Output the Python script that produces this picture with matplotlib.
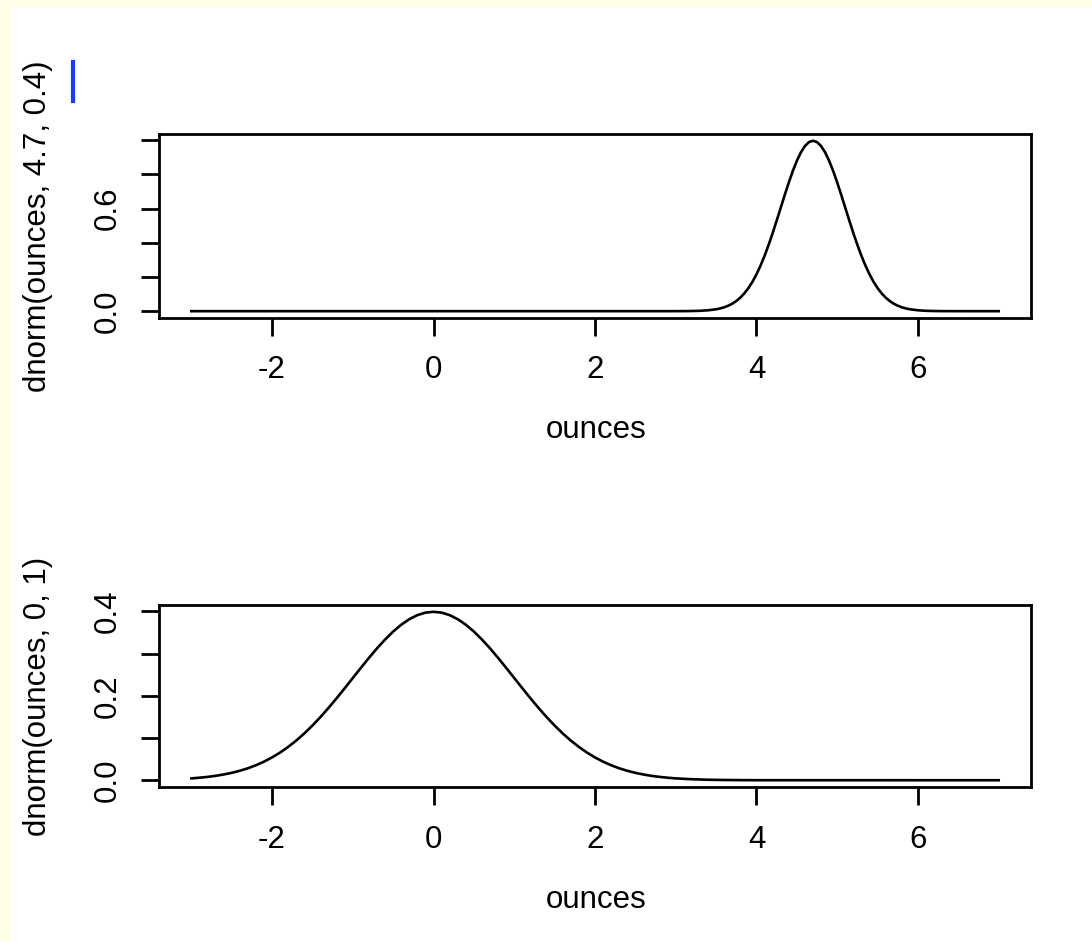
import matplotlib
matplotlib.use("Agg")
import matplotlib.pyplot as plt
from matplotlib.patches import Rectangle
from matplotlib.lines import Line2D

plt.rcParams['font.family'] = ['Liberation Sans', 'DejaVu Sans']

# ---- data ----
ounces_top = [-3.0, 3.0, 3.1, 3.2, 3.3, 3.4, 3.5, 3.55, 3.6, 3.65, 3.7, 3.75, 3.8, 3.85,
              3.9, 3.95, 4.0, 4.05, 4.1, 4.15, 4.2, 4.25, 4.3, 4.35, 4.4, 4.45, 4.5,
              4.55, 4.6, 4.65, 4.7, 4.75, 4.8, 4.85, 4.9, 4.95, 5.0, 5.05, 5.1, 5.15,
              5.2, 5.25, 5.3, 5.35, 5.4, 5.45, 5.5, 5.55, 5.6, 5.65, 5.7, 5.75, 5.8,
              5.85, 5.9, 6.0, 6.1, 6.2, 6.3, 6.4, 7.0]
dens_top = [0.0, 0.0001, 0.0003, 0.0009, 0.0022, 0.0051, 0.0111, 0.0160, 0.0227, 0.0318,
            0.0438, 0.0594, 0.0794, 0.1043, 0.1350, 0.1720, 0.2157, 0.2663, 0.3238,
            0.3875, 0.4566, 0.5297, 0.6049, 0.6801, 0.7528, 0.8204, 0.8802, 0.9296,
            0.9667, 0.9896, 0.9974, 0.9896, 0.9667, 0.9296, 0.8802, 0.8204, 0.7528,
            0.6801, 0.6049, 0.5297, 0.4566, 0.3875, 0.3238, 0.2663, 0.2157, 0.1720,
            0.1350, 0.1043, 0.0794, 0.0594, 0.0438, 0.0318, 0.0227, 0.0160, 0.0111,
            0.0051, 0.0022, 0.0009, 0.0003, 0.0001, 0.0]

ounces_bot = [-3.0, -2.9, -2.8, -2.7, -2.6, -2.5, -2.4, -2.3, -2.2, -2.1, -2.0, -1.9,
              -1.8, -1.7, -1.6, -1.5, -1.4, -1.3, -1.2, -1.1, -1.0, -0.9, -0.8, -0.7,
              -0.6, -0.5, -0.4, -0.3, -0.2, -0.1, 0.0, 0.1, 0.2, 0.3, 0.4, 0.5, 0.6,
              0.7, 0.8, 0.9, 1.0, 1.1, 1.2, 1.3, 1.4, 1.5, 1.6, 1.7, 1.8, 1.9, 2.0,
              2.1, 2.2, 2.3, 2.4, 2.5, 2.6, 2.7, 2.8, 2.9, 3.0, 3.2, 3.4, 3.6, 3.8,
              4.0, 7.0]
dens_bot = [0.0044, 0.0060, 0.0079, 0.0104, 0.0136, 0.0175, 0.0224, 0.0283, 0.0355,
            0.0440, 0.0540, 0.0656, 0.0790, 0.0940, 0.1109, 0.1295, 0.1497, 0.1714,
            0.1942, 0.2179, 0.2420, 0.2661, 0.2897, 0.3123, 0.3332, 0.3521, 0.3683,
            0.3814, 0.3910, 0.3970, 0.3989, 0.3970, 0.3910, 0.3814, 0.3683, 0.3521,
            0.3332, 0.3123, 0.2897, 0.2661, 0.2420, 0.2179, 0.1942, 0.1714, 0.1497,
            0.1295, 0.1109, 0.0940, 0.0790, 0.0656, 0.0540, 0.0440, 0.0355, 0.0283,
            0.0224, 0.0175, 0.0136, 0.0104, 0.0079, 0.0060, 0.0044, 0.0024, 0.0012,
            0.0006, 0.0003, 0.0001, 0.0]

xticks = [-2, 0, 2, 4, 6]
xticklabels = ['-2', '0', '2', '4', '6']
yticks_top = [0.0, 0.2, 0.4, 0.6, 0.8, 1.0]
yticklabels_top = ['0.0', '', '', '0.6', '', '']
yticks_bot = [0.0, 0.1, 0.2, 0.3, 0.4]
yticklabels_bot = ['0.0', '', '0.2', '', '0.4']
ylabel_top = 'dnorm(ounces, 4.7, 0.4)'
ylabel_bot = 'dnorm(ounces, 0, 1)'
xlabel = 'ounces'

W, H = 1092, 942
fig = plt.figure(figsize=(W / 100, H / 100), dpi=100)
fig.patch.set_facecolor('#FFFEE6')
fig.patches.append(Rectangle((10 / W, 0), 1 - 10 / W, 1 - 7 / H, transform=fig.transFigure,
                             facecolor='white', edgecolor='none', zorder=-10))
fig.lines.append(Line2D([72.5 / W, 72.5 / W], [1 - 62 / H, 1 - 101 / H],
                        transform=fig.transFigure, color='#1A3CFF', lw=3))

FS = 22.5


def make_ax(top_px, bot_px, x, y, yt, ytl, ylim, ylab):
    ax = fig.add_axes([159 / W, 1 - bot_px / H, (1031 - 159) / W, (bot_px - top_px) / H])
    ax.set_zorder(5)
    ax.plot(x, y, color='black', lw=1.9, solid_joinstyle='round')
    ax.set_xlim(-3.4, 7.4)
    ax.set_ylim(*ylim)
    ax.set_xticks(xticks)
    ax.set_xticklabels(xticklabels)
    ax.set_yticks(yt)
    ax.set_yticklabels(ytl, rotation=90, va='center')
    ax.tick_params(axis='both', direction='out', length=13, width=2.0, labelsize=FS,
                   color='black')
    ax.tick_params(axis='x', pad=14)
    ax.tick_params(axis='y', pad=13)
    for s in ax.spines.values():
        s.set_linewidth(2.0)
    ax.set_facecolor('white')
    cy = (top_px + bot_px) / 2
    fig.text(38 / W, 1 - cy / H, ylab, rotation=90, ha='center', va='center', fontsize=FS)
    return ax


make_ax(134, 318, ounces_top, dens_top, yticks_top, yticklabels_top, (-0.04, 1.037), ylabel_top)
make_ax(605, 787, ounces_bot, dens_bot, yticks_bot, yticklabels_bot, (-0.016, 0.415), ylabel_bot)

fig.text(596 / W, 1 - 430 / H, xlabel, ha='center', va='center', fontsize=FS)
fig.text(596 / W, 1 - 900 / H, xlabel, ha='center', va='center', fontsize=FS)

fig.savefig('out.png', dpi=100)
